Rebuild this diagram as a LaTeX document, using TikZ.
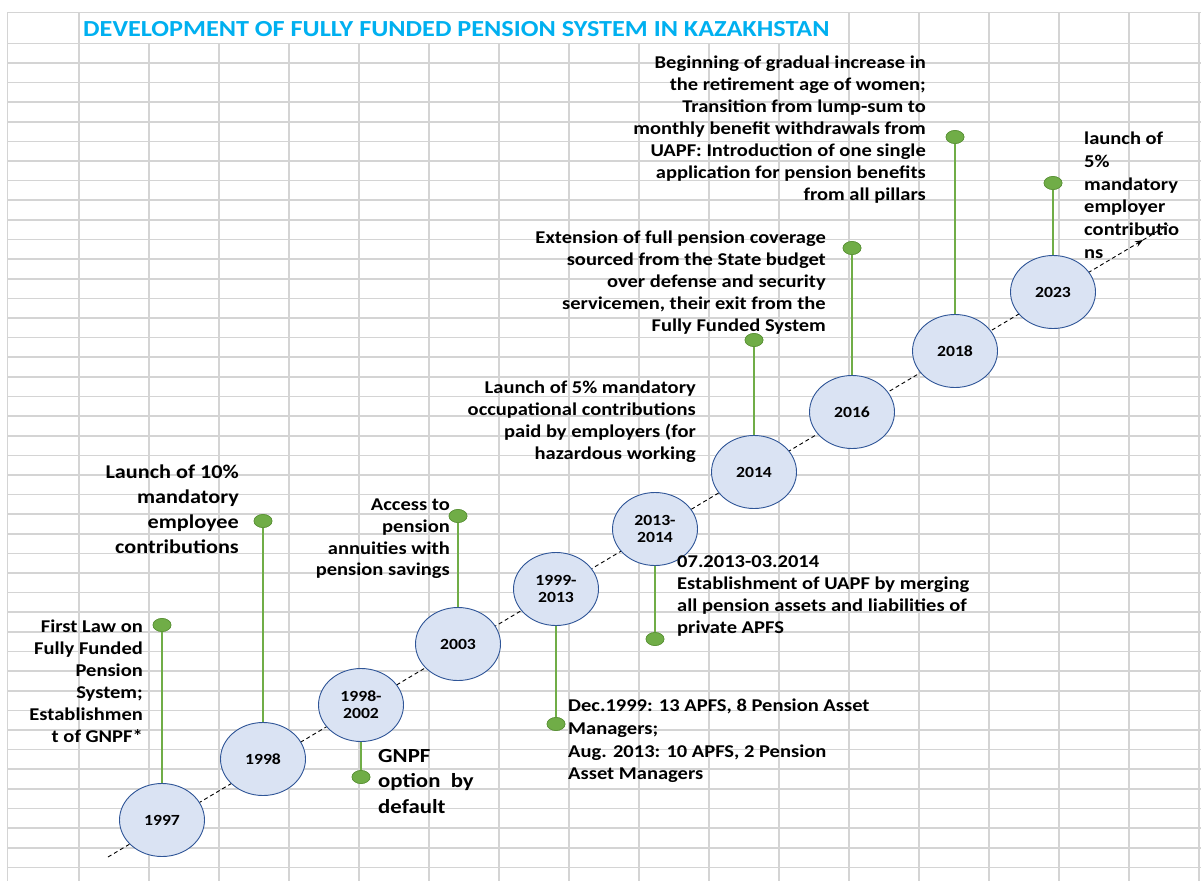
\documentclass[tikz,border=0pt]{standalone}
\usepackage{fontspec}
\setmainfont{Carlito}[FakeStretch=1.14]
\usetikzlibrary{arrows.meta,positioning,shapes.geometric}
\definecolor{gitter}{RGB}{212,212,212}
\definecolor{titelblaa}{RGB}{0,176,240}
\definecolor{lysblaa}{RGB}{218,227,243}
\definecolor{kantblaa}{RGB}{47,85,151}
\definecolor{groen}{RGB}{112,173,71}
\definecolor{moerkgroen}{RGB}{90,145,55}
\tikzset{
    >={Stealth[length=8pt,width=6pt]},
    aar/.style={
           ellipse,
           draw=kantblaa, fill=lysblaa, line width=0.9pt,
           minimum width=85pt, minimum height=73pt,
           inner sep=0pt, align=center,
           font=\fontsize{15.5}{17}\selectfont\bfseries},
    prik/.style={
           ellipse,
           draw=moerkgroen, fill=groen, line width=0.6pt,
           minimum width=18pt, minimum height=13pt,
           inner sep=0pt},
    stang/.style={
           draw=groen,
           line width=2pt},
    tekst/.style={
           inner sep=0pt,
           font=\fontsize{18}{22}\selectfont\bfseries},
    hoejre/.style={tekst, align=right, anchor=north east},
    venstre/.style={tekst, align=left, anchor=north west},
    gitterlinje/.style={draw=gitter, line width=1.6pt}
}
\begin{document}
\begin{tikzpicture}[x=1pt, y=-1pt]
        \useasboundingbox (0,0) rectangle (1201,881);
        \fill[white] (0,0) rectangle (1201,881);
        % regneark-gitter
        \draw[gitterlinje] (7,12.3) -- (1201,12.3);
        \foreach \i in {0,...,42}
            \draw[gitterlinje] (7,{43.3+19.62*\i}) -- (1201,{43.3+19.62*\i});
        \draw[gitterlinje] (7.3,12.3) -- (7.3,881);
        \draw[gitterlinje] (79,12.3) -- (79,881);
        \foreach \x in {149,219,...,779}
            \draw[gitterlinje] (\x,43.3) -- (\x,881);
        \foreach \x in {849,919,...,1199}
            \draw[gitterlinje] (\x,12.3) -- (\x,881);

        \node[anchor=west, inner sep=0pt, text=titelblaa,
              font=\fontsize{23}{26}\selectfont\bfseries] (titel) at (83,29)
              {DEVELOPMENT OF FULLY FUNDED PENSION SYSTEM IN KAZAKHSTAN};

        % tidslinje
        \coordinate (start) at (108,857);
        \coordinate (spids) at (1143,240);
        \coordinate (slut) at (1168,225);
        \draw[->, dash pattern=on 4pt off 3pt, line width=0.9pt] (start) -- (spids);
        \draw[dash pattern=on 4pt off 3pt, line width=0.9pt] (spids) -- (slut);

        % prikker
        \node[prik] (d1997) at (162,625) {};
        \node[prik] (d1998) at (263,521) {};
        \node[prik] (d9802) at (361,777) {};
        \node[prik] (d2003) at (458,516) {};
        \node[prik] (d9913) at (556,724) {};
        \node[prik] (d1314) at (655,639) {};
        \node[prik] (d2014) at (754,340) {};
        \node[prik] (d2016) at (852,248) {};
        \node[prik] (d2018) at (955,137) {};
        \node[prik] (d2023) at (1053,183) {};

        % aarstal
        \node[aar] (y1997) at (162,820) {1997};
        \node[aar] (y1998) at (263,759) {1998};
        \node[aar] (y9802) at (361,705) {1998-\\2002};
        \node[aar] (y2003) at (458,644) {2003};
        \node[aar] (y9913) at (556,589) {1999-\\2013};
        \node[aar] (y1314) at (655,529) {2013-\\2014};
        \node[aar] (y2014) at (754,472) {2014};
        \node[aar] (y2016) at (852,412) {2016};
        \node[aar] (y2018) at (955,351) {2018};
        \node[aar] (y2023) at (1053,292) {2023};

        \foreach \a in {1997,1998,9802,2003,9913,1314,2014,2016,2018,2023}
            \draw[stang] (y\a) -- (d\a);
        \foreach \a in {1997,1998,9802,2003,9913,1314,2014,2016,2018,2023}
            \node[prik] at (d\a) {};

        % tekster
        \node[hoejre] (t1997) at (143,620) {First Law on\\Fully Funded\\Pension\\System;\\Establishmen\\t of GNPF*};
        \node[hoejre, font=\fontsize{19.5}{25}\selectfont\bfseries] (t1998) at (239,465)
              {Launch of 10\%\\mandatory\\employee\\contributions};
        \node[venstre, font=\fontsize{20}{25.5}\selectfont\bfseries] (t9802) at (378,749)
              {GNPF\\option~ by\\default};
        \node[hoejre, font=\fontsize{18}{21.7}\selectfont\bfseries] (t2003) at (450,499)
              {Access to\\pension\\annuities with\\pension savings};
        \node[venstre, font=\fontsize{18}{22.7}\selectfont\bfseries] (t9913) at (568,699)
              {Dec.1999: 13 APFS, 8 Pension Asset\\Managers;\\Aug. 2013: 10 APFS, 2 Pension\\Asset Managers};
        \node[venstre] (t1314) at (677,555)
              {07.2013-03.2014\\Establishment of UAPF by merging\\all pension assets and liabilities of\\private APFS};
        \node[hoejre] (t2014) at (696,381)
              {Launch of 5\% mandatory\\occupational contributions\\paid by employers (for\\hazardous working};
        \node[hoejre] (t2016) at (826,231)
              {Extension of full pension coverage\\sourced from the State budget\\over defense and security\\servicemen, their exit from the\\Fully Funded System};
        \node[hoejre] (t2018) at (926,56)
              {Beginning of gradual increase in\\the retirement age of women;\\Transition from lump-sum to\\monthly benefit withdrawals from\\UAPF: Introduction of one single\\application for pension benefits\\from all pillars};
        \node[venstre, font=\fontsize{18}{22.7}\selectfont\bfseries] (t2023) at (1084,132)
              {launch of\\5\%\\mandatory\\employer\\contributio\\ns};
    \end{tikzpicture}
\end{document}
